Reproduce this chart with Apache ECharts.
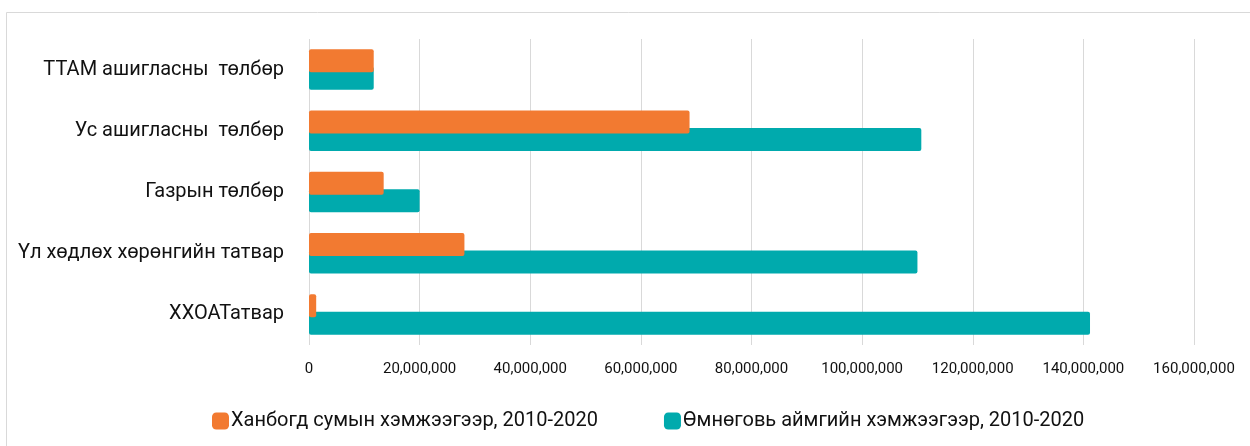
<!DOCTYPE html>
<html>
<head>
<meta charset="utf-8">
<script src="https://cdn.jsdelivr.net/npm/echarts@6/dist/echarts.min.js"></script>
<style>
html,body{margin:0;padding:0;background:#fff;}
#chart{width:1250px;height:446px;}
</style>
</head>
<body>
<div id="chart"></div>
<script>
const categories = [
  'ТТАМ ашигласны  төлбөр',
  'Ус ашигласны  төлбөр',
  'Газрын төлбөр',
  'Үл хөдлөх хөрөнгийн татвар',
  'ХХОАТатвар'
];
const seriesNames = [
  'Ханбогд сумын хэмжээгээр, 2010-2020',
  'Өмнөговь аймгийн хэмжээгээр, 2010-2020'
];
const khanbogdValues = [11700000, 68800000, 13500000, 28100000, 1300000];
const umnugoviValues = [11700000, 110700000, 20000000, 110000000, 141200000];
const axisMax = 160000000;
const axisInterval = 20000000;

const chart = echarts.init(document.getElementById('chart'), null, {renderer: 'canvas'});
const FONT = 'Roboto';
chart.setOption({
  animation: false,
  backgroundColor: '#ffffff',
  graphic: [
    {type: 'line', shape: {x1: 6.5, y1: 12.5, x2: 1250, y2: 12.5}, style: {stroke: '#d9d9d9', lineWidth: 1}},
    {type: 'line', shape: {x1: 6.5, y1: 12.5, x2: 6.5, y2: 446}, style: {stroke: '#d9d9d9', lineWidth: 1}}
  ],
  grid: {left: 309, right: 56, top: 39, bottom: 101, containLabel: false},
  legend: {
    left: 207,
    top: 406,
    itemWidth: 17,
    itemHeight: 17,
    itemGap: 66,
    icon: 'roundRect',
    textStyle: {fontFamily: FONT, fontSize: 20, color: '#111111', padding: [0, 0, 0, -3]},
    data: seriesNames
  },
  xAxis: {
    type: 'value',
    min: 0,
    max: axisMax,
    interval: axisInterval,
    axisLine: {show: false},
    axisTick: {show: false},
    splitLine: {show: true, lineStyle: {color: '#d9d9d9', width: 1}},
    axisLabel: {
      fontFamily: FONT, fontSize: 15, color: '#111111', margin: 17,
      formatter: function (v) { return v.toLocaleString('en-US'); }
    }
  },
  yAxis: {
    type: 'category',
    inverse: true,
    data: categories,
    axisLine: {show: false},
    axisTick: {show: false},
    axisLabel: {fontFamily: FONT, fontSize: 20, color: '#111111', margin: 25}
  },
  series: [
    {
      name: seriesNames[0],
      type: 'bar',
      data: khanbogdValues,
      barWidth: 23,
      barGap: '-24%',
      z: 3,
      itemStyle: {color: '#F27A31', borderRadius: 2}
    },
    {
      name: seriesNames[1],
      type: 'bar',
      data: umnugoviValues,
      barWidth: 23,
      z: 2,
      itemStyle: {color: '#00AAAD', borderRadius: 2}
    }
  ]
});
</script>
</body>
</html>
